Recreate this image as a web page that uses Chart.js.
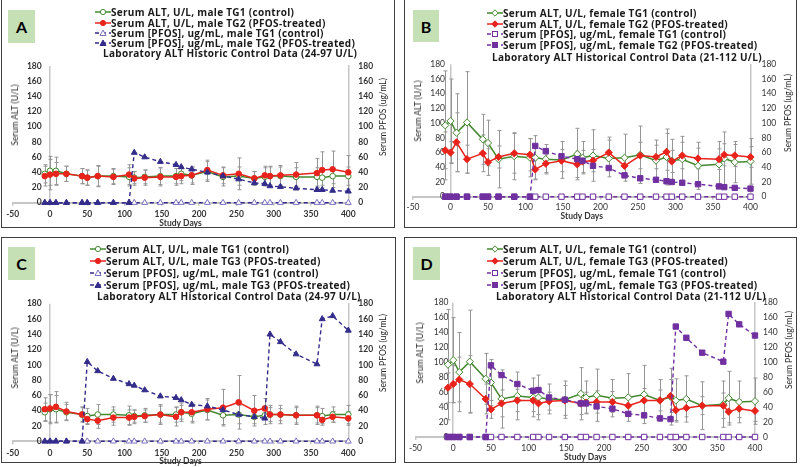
<!DOCTYPE html>
<html>
<head>
<meta charset="utf-8">
<script src="https://cdn.jsdelivr.net/npm/chart.js@4.4.1/dist/chart.umd.min.js"></script>
<style>
  html, body { margin: 0; padding: 0; background: #fff; overflow: hidden; }
  #wrap { position: relative; width: 800px; height: 467px; font-family: Lato, sans-serif; }
  .frame { position: absolute; border: 1.5px solid #404040; box-sizing: border-box; }
  canvas { position: absolute; }
  .tag { position: absolute; background: #c5e0b4; font: bold 16px Lato, sans-serif; color: #000;
         display: flex; align-items: center; justify-content: center; }
  .leg { position: absolute; font: bold 10px "Open Sans", sans-serif; letter-spacing: 0.3px; color: #1a1a1a;
         white-space: nowrap; height: 10px; line-height: 10px; display: flex; align-items: center; }
  .ytitle { position: absolute; font: 8.5px Lato, sans-serif; color: #262626; white-space: nowrap;
            transform: translate(-50%, -50%) rotate(-90deg); }
</style>
</head>
<body>
<div id="wrap"></div>
<script>
Chart.defaults.font.family = 'Lato, sans-serif';

// study days (x) shared by every series
const studyDays = [-7, 0, 8, 22, 43, 50, 64, 85, 106, 113, 127, 148, 169, 176, 190, 211, 232, 253, 274, 288, 295, 309, 330, 358, 365, 379, 400];

// serum ALT, U/L (mean and SD)
const maleTG1Alt = [38, 42, 42, 38, 35, 33, 35, 35, 34, 33, 34, 35, 35, 38, 36, 41, 34, 35, 32, 34, 35, 35, 34, 34, 33, 35, 35];
const maleTG1Sd  = [12, 19, 18, 10, 10, 10, 13, 10, 12, 8, 9, 11, 10, 9, 12, 13, 12, 12, 9, 12, 12, 12, 12, 12, 10, 10, 12];
const maleTG2Alt = [35, 37, 38, 38, 35, 33, 35, 34, 37, 32, 33, 34, 34, 35, 36, 43, 36, 38, 32, 36, 35, 36, 37, 39, 43, 44, 40];
const maleTG2Sd  = [13, 20, 15, 10, 10, 10, 14, 10, 13, 9, 10, 12, 11, 10, 10, 13, 11, 21, 9, 12, 13, 13, 16, 19, 24, 24, 22];
const maleTG3Alt = [42, 43, 45, 39, 35, 29, 27, 31, 31, 32, 33, 35, 32, 38, 38, 42, 44, 51, 40, 43, 35, 35, 34, 34, 28, 32, 30];
const maleTG3Sd  = [15, 18, 20, 12, 9, 7, 10, 10, 10, 9, 8, 13, 12, 12, 12, 14, 24, 35, 20, 13, 9, 8, 10, 10, 7, 7, 9];
const femaleTG1Alt = [97, 103, 87, 101, 78, 73, 51, 55, 53, 53, 51, 50, 58, 53, 56, 52, 53, 57, 49, 54, 49, 51, 42, 44, 52, 47, 48];
const femaleTG1Sd  = [74, 57, 53, 69, 34, 31, 39, 32, 26, 30, 20, 25, 35, 22, 35, 25, 32, 39, 28, 38, 29, 31, 32, 31, 36, 28, 31];
const femaleTG2Alt = [63, 60, 74, 51, 59, 47, 54, 59, 57, 37, 45, 49, 44, 48, 49, 60, 42, 56, 54, 61, 48, 56, 52, 51, 57, 56, 54];
const femaleTG2Sd  = [25, 15, 40, 19, 25, 18, 15, 27, 22, 13, 12, 15, 18, 15, 15, 21, 12, 18, 16, 25, 15, 18, 14, 14, 15, 15, 14];
const femaleTG3Alt = [66, 71, 77, 71, 51, 37, 45, 49, 49, 45, 48, 49, 45, 46, 47, 47, 42, 49, 49, 55, 36, 39, 42, 42, 34, 38, 35];
const femaleTG3Sd  = [20, 25, 30, 38, 20, 12, 18, 15, 15, 15, 12, 20, 15, 14, 15, 14, 14, 16, 14, 22, 14, 12, 12, 17, 15, 12, 14];

// serum [PFOS], ug/mL
const pfosControl   = [0, 0, 0, 0, 0, 0, 0, 0, 0, 0, 0, 0, 0, 0, 0, 0, 0, 0, 0, 0, 0, 0, 0, 0, 0, 0, 0];
const pfosMaleTG2   = [0, 0, 0, 0, 0, 0, 0, 0, 0, 66, 60, 54, 50, 47, 44, 40, 35, 31, 26, 25, 22, 21, 19, 17, 17, 16, 15];
const pfosMaleTG3   = [0, 0, 0, 0, 0, 104, 92, 82, 75, 73, 67, 59, 57, 54, 48, 46, 41, 35, 32, 30, 140, 130, 114, 101, 160, 164, 145];
const pfosFemaleTG2 = [0, 0, 0, 0, 0, 0, 0, 0, 0, 69, 62, 55, 51, 49, 42, 39, 29, 25, 23, 21, 20, 19, 17, 14, 13, 12, 11];
const pfosFemaleTG3 = [0, 0, 0, 0, 0, 96, 83, 71, 62, 63, 53, 50, 45, 45, 41, 38, 31, 29, 25, 24, 148, 133, 113, 101, 165, 151, 136];

const GREEN = '#43882f', RED = '#e8231b', NAVY = '#332c8a', NAVY_LT = '#7c72c2', PURPLE = '#7030a0';

const pts = ys => studyDays.map((d, i) => ({ x: d, y: ys[i] }));

function altSet(label, ys, sd, color, style, fill, order) {
  return {
    label, data: pts(ys), errors: sd, yAxisID: 'y', order,
    borderColor: color, borderWidth: 1.5, tension: 0, clip: false,
    pointStyle: style, pointRadius: style === 'circle' ? 2.8 : 3.6,
    pointBackgroundColor: fill, pointBorderColor: color, pointBorderWidth: 1
  };
}
function pfosSet(label, ys, color, style, fill, edge, order) {
  return {
    label, data: pts(ys), yAxisID: 'y2', order,
    borderColor: color, borderWidth: 1.4, borderDash: [4, 3], tension: 0, clip: false,
    pointStyle: style, pointRadius: style === 'rect' ? 3.8 : 3.4,
    pointBackgroundColor: fill, pointBorderColor: edge, pointBorderWidth: 1
  };
}

/* error bars drawn from each dataset's SD array through its scales */
const errorBars = {
  id: 'errorBars',
  beforeDatasetsDraw(chart) {
    const { ctx, scales } = chart;
    ctx.save();
    ctx.strokeStyle = '#959595';
    ctx.lineWidth = 1;
    chart.data.datasets.forEach(ds => {
      if (!ds.errors) return;
      const ys = scales[ds.yAxisID];
      ds.data.forEach((p, i) => {
        const x = Math.round(scales.x.getPixelForValue(p.x)) + 0.5;
        const y1 = ys.getPixelForValue(p.y + ds.errors[i]);
        const y2 = ys.getPixelForValue(p.y - ds.errors[i]);
        ctx.beginPath();
        ctx.moveTo(x, y1); ctx.lineTo(x, y2);
        ctx.moveTo(x - 2, y1); ctx.lineTo(x + 2, y1);
        ctx.moveTo(x - 2, y2); ctx.lineTo(x + 2, y2);
        ctx.stroke();
      });
    });
    ctx.restore();
  }
};

const panels = [
  { tag: 'A', canvas: [0, 0, 400, 233], frame: [1, -2, 394, 230], area: [12.7, 66, 348.3, 202.7], box: [8, 10, 27, 33],
    bold: true, leftLab: 29, rightLab: 10, xPad: 3.3, titleOff: 20.6,
    yTitle: [15, 115], y2Title: [383, 117], legX: 95, legY: [12.3, 22.7, 33, 43.3], noteX: 103, noteY: 53.3,
    note: 'Laboratory ALT Historic Control Data (24-97 U/L)',
    sets: [
      altSet('Serum ALT, U/L, male TG1 (control)', maleTG1Alt, maleTG1Sd, GREEN, 'circle', '#ffffff', 3),
      altSet('Serum ALT, U/L, male TG2 (PFOS-treated)', maleTG2Alt, maleTG2Sd, RED, 'circle', RED, 2),
      pfosSet('Serum [PFOS], ug/mL, male TG1 (control)', pfosControl, NAVY, 'triangle', '#ffffff', NAVY_LT, 1),
      pfosSet('Serum [PFOS], ug/mL, male TG2 (PFOS-treated)', pfosMaleTG2, NAVY, 'triangle', NAVY, NAVY, 0)
    ] },
  { tag: 'B', canvas: [400, 0, 400, 233], frame: [404, -2, 393, 230], area: [413, 64.3, 750.5, 196.7], box: [413, 10, 26, 32],
    bold: false, leftLab: 32, rightLab: 11, xPad: 2.1, titleOff: 20,
    yTitle: [418, 111], y2Title: [788, 113], legX: 487, legY: [13.3, 23.7, 34.3, 44.7], noteX: 492, noteY: 56.7,
    note: 'Laboratory ALT Historical Control Data (21-112 U/L)',
    sets: [
      altSet('Serum ALT, U/L, female TG1 (control)', femaleTG1Alt, femaleTG1Sd, GREEN, 'rectRot', '#ffffff', 3),
      altSet('Serum ALT, U/L, female TG2 (PFOS-treated)', femaleTG2Alt, femaleTG2Sd, RED, 'rectRot', RED, 2),
      pfosSet('Serum [PFOS], ug/mL, female TG1 (control)', pfosControl, PURPLE, 'rect', '#ffffff', PURPLE, 1),
      pfosSet('Serum [PFOS], ug/mL, female TG2 (PFOS-treated)', pfosFemaleTG2, PURPLE, 'rect', PURPLE, PURPLE, 0)
    ] },
  { tag: 'C', canvas: [0, 233, 400, 234], frame: [1, 237, 395, 226], area: [12.7, 303.7, 348.3, 441.3], box: [8, 247, 27, 33],
    bold: true, leftLab: 29, rightLab: 10, xPad: 3.4, titleOff: 20,
    yTitle: [15, 358], y2Title: [383, 353], legX: 90, legY: [249.3, 261.3, 273.3, 284.7], noteX: 97, noteY: 296.3,
    note: 'Laboratory ALT Historical Control Data (24-97 U/L)',
    sets: [
      altSet('Serum ALT, U/L, male TG1 (control)', maleTG1Alt, maleTG1Sd, GREEN, 'circle', '#ffffff', 3),
      altSet('Serum ALT, U/L, male TG3 (PFOS-treated)', maleTG3Alt, maleTG3Sd, RED, 'circle', RED, 2),
      pfosSet('Serum [PFOS], ug/mL, male TG1 (control)', pfosControl, NAVY, 'triangle', '#ffffff', NAVY_LT, 1),
      pfosSet('Serum [PFOS], ug/mL, male TG3 (PFOS-treated)', pfosMaleTG3, NAVY, 'triangle', NAVY, NAVY, 0)
    ] },
  { tag: 'D', canvas: [400, 233, 400, 234], frame: [404, 237, 393, 226], area: [415.5, 302.7, 755, 437], box: [413, 247, 27, 33],
    bold: false, leftLab: 33, rightLab: 8, xPad: 2.8, titleOff: 21,
    yTitle: [420, 353], y2Title: [789, 350], legX: 487, legY: [249.3, 261.3, 273.3, 284.7], noteX: 496, noteY: 296.3,
    note: 'Laboratory ALT Historical Control Data (21-112 U/L)',
    sets: [
      altSet('Serum ALT, U/L, female TG1 (control)', femaleTG1Alt, femaleTG1Sd, GREEN, 'rectRot', '#ffffff', 3),
      altSet('Serum ALT, U/L, female TG3 (PFOS-treated)', femaleTG3Alt, femaleTG3Sd, RED, 'rectRot', RED, 2),
      pfosSet('Serum [PFOS], ug/mL, female TG1 (control)', pfosControl, PURPLE, 'rect', '#ffffff', PURPLE, 1),
      pfosSet('Serum [PFOS], ug/mL, female TG3 (PFOS-treated)', pfosFemaleTG3, PURPLE, 'rect', PURPLE, PURPLE, 0)
    ] }
];

const wrap = document.getElementById('wrap');
const measure = document.createElement('canvas').getContext('2d');

function place(el, x, y, w, h) {
  el.style.left = x + 'px'; el.style.top = y + 'px';
  if (w !== undefined) { el.style.width = w + 'px'; el.style.height = h + 'px'; }
  wrap.appendChild(el);
  return el;
}

function markerSvg(ds) {
  const dash = ds.borderDash ? ` stroke-dasharray="${ds.borderDash.join(' ')}"` : '';
  const f = ds.pointBackgroundColor, s = ds.pointBorderColor;
  let shape;
  if (ds.pointStyle === 'circle') shape = `<circle cx="8" cy="5" r="2.6" fill="${f}" stroke="${s}"/>`;
  else if (ds.pointStyle === 'triangle') shape = `<polygon points="8,2 11,7.5 5,7.5" fill="${f}" stroke="${s}"/>`;
  else if (ds.pointStyle === 'rect') shape = `<rect x="5.5" y="2.5" width="5" height="5" fill="${f}" stroke="${s}"/>`;
  else shape = `<polygon points="8,1.8 11.2,5 8,8.2 4.8,5" fill="${f}" stroke="${s}"/>`;
  return `<svg width="16" height="10" style="flex:none"><line x1="0" y1="5" x2="16" y2="5" stroke="${ds.borderColor}" stroke-width="1.5"${dash}/>${shape}</svg>`;
}

panels.forEach(p => {
  const fr = document.createElement('div');
  fr.className = 'frame';
  place(fr, ...p.frame);

  const [cx, cy, cw, ch] = p.canvas;
  const [al, at, ar, ab] = p.area;
  const xH = p.titleOff + 4.8;
  const rightW = 32;
  const cv = document.createElement('canvas');
  cv.width = cw; cv.height = ch;
  place(cv, cx, cy);

  const weight = p.bold ? 'bold' : 'normal';
  const tickFont = { size: 8.5, weight };
  measure.font = `${weight} 8.5px Lato`;
  const widest = Math.max(...['180', '160', '100', '80'].map(t => measure.measureText(t).width));
  const grey = '#c6c6c6';

  new Chart(cv, {
    type: 'line',
    data: { datasets: p.sets },
    options: {
      responsive: false,
      animation: false,
      devicePixelRatio: 1,
      layout: { padding: { left: al - cx, top: at - cy, right: cx + cw - ar - rightW, bottom: cy + ch - ab - xH } },
      plugins: { legend: { display: false }, tooltip: { enabled: false } },
      scales: {
        x: {
          type: 'linear', min: -50, max: 400,
          ticks: { stepSize: 50, padding: p.xPad, color: '#333', font: tickFont },
          grid: { color: c => (c.tick && c.tick.value === 0 ? grey : 'rgba(0,0,0,0)'), lineWidth: 1.5,
                  tickLength: 3, tickColor: grey },
          border: { color: grey, width: 2 },
          title: { display: true, text: 'Study Days', color: '#333', font: { size: 8.5, weight: 'bold' }, padding: 0 },
          afterFit: s => { s.height = xH; }
        },
        y: {
          position: 'left', min: 0, max: 180,
          ticks: { stepSize: 20, mirror: true, crossAlign: 'far', padding: p.leftLab - widest, color: '#333', font: tickFont },
          grid: { display: false, drawTicks: false },
          border: { display: false },
          afterFit: s => { s.width = 0; }
        },
        y2: {
          position: 'right', min: 0, max: 180,
          ticks: { stepSize: 20, padding: p.rightLab, color: '#333', font: tickFont },
          grid: { display: false, drawTicks: false },
          border: { display: true, color: grey, width: 1.5 },
          afterFit: s => { s.width = rightW; }
        }
      }
    },
    plugins: [errorBars]
  });

  const tag = document.createElement('div');
  tag.className = 'tag';
  tag.textContent = p.tag;
  place(tag, ...p.box);

  p.sets.forEach((ds, i) => {
    const row = document.createElement('div');
    row.className = 'leg';
    row.innerHTML = markerSvg(ds) + '<span>' + ds.label + '</span>';
    place(row, p.legX, p.legY[i] - 5);
  });
  const note = document.createElement('div');
  note.className = 'leg';
  note.textContent = p.note;
  place(note, p.noteX, p.noteY - 5);

  const t1 = document.createElement('div');
  t1.className = 'ytitle';
  t1.textContent = 'Serum ALT (U/L)';
  place(t1, ...p.yTitle);
  const t2 = document.createElement('div');
  t2.className = 'ytitle';
  t2.textContent = 'Serum PFOS (ug/mL)';
  place(t2, ...p.y2Title);
});
</script>
</body>
</html>
